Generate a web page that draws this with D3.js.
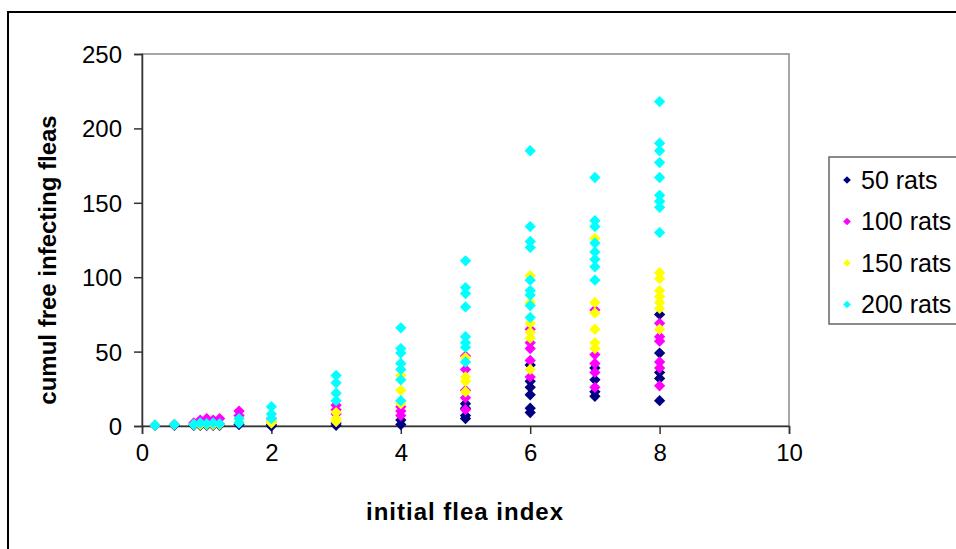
<!DOCTYPE html>
<html>
<head>
<meta charset="utf-8">
<script src="https://cdn.jsdelivr.net/npm/d3@7"></script>
<style>
    body { margin: 0; background: #fff; }
    svg { display: block; }
    .tick-label { font-family: "Liberation Sans", Arial, sans-serif; font-size: 24px; fill: #000; }
    .axis-title { font-family: "Liberation Sans", Arial, sans-serif; font-size: 24px; font-weight: bold; fill: #000; }
    .legend-label { font-family: "Liberation Sans", Arial, sans-serif; font-size: 24px; fill: #000; }
</style>
</head>
<body>
<div id="chart"></div>
<script>
// series values, [initial flea index, cumul free infecting fleas]
const rats50 = [
    [0.2, 0.3], [0.5, 0.5], [0.8, 0.5], [0.9, 0.5], [1.0, 0.5], [1.1, 0.5], [1.2, 0.5], [1.5, 1],
    [2, 0], [2, 1], [3, 0.5], [3, 2], [4, 1], [4, 4],
    [5, 5], [5, 7], [5, 12], [5, 15],
    [6, 9], [6, 12], [6, 21], [6, 26], [6, 30], [6, 41],
    [7, 20], [7, 23], [7, 31], [7, 39],
    [8, 17], [8, 32], [8, 36], [8, 49], [8, 75]
];
const rats100 = [
    [0.2, 0.5], [0.5, 1], [0.8, 2], [0.9, 4], [1.0, 5], [1.1, 4], [1.2, 5], [1.5, 7], [1.5, 10],
    [2, 3], [2, 5], [3, 8], [3, 11], [3, 14], [4, 7], [4, 10], [4, 13],
    [5, 11], [5, 19], [5, 24], [5, 38], [5, 47],
    [6, 33], [6, 44], [6, 52], [6, 56], [6, 65],
    [7, 26], [7, 36], [7, 42], [7, 48], [7, 78],
    [8, 27], [8, 39], [8, 43], [8, 57], [8, 60], [8, 69]
];
const rats150 = [
    [0.2, 0.5], [0.5, 1], [0.8, 1], [0.9, 1], [1.0, 1], [1.1, 1], [1.2, 1], [1.5, 3],
    [2, 2], [2, 3], [3, 3], [3, 5], [3, 9], [4, 15], [4, 24], [4, 34],
    [5, 23], [5, 30], [5, 33], [5, 46],
    [6, 38], [6, 59], [6, 63], [6, 69], [6, 83], [6, 101],
    [7, 52], [7, 56], [7, 65], [7, 76], [7, 83], [7, 126],
    [8, 65], [8, 79], [8, 83], [8, 87], [8, 91], [8, 99], [8, 103]
];
const rats200 = [
    [0.2, 0.5], [0.5, 1], [0.8, 1], [0.9, 2], [1.0, 1.5], [1.1, 2], [1.2, 1.5], [1.5, 2], [1.5, 5],
    [2, 5], [2, 8], [2, 13], [3, 17], [3, 22], [3, 29], [3, 34],
    [4, 17], [4, 31], [4, 38], [4, 42], [4, 49], [4, 52], [4, 66],
    [5, 43], [5, 53], [5, 56], [5, 60], [5, 80], [5, 89], [5, 93], [5, 111],
    [6, 73], [6, 81], [6, 88], [6, 91], [6, 98], [6, 120], [6, 124], [6, 134], [6, 185],
    [7, 98], [7, 107], [7, 112], [7, 117], [7, 123], [7, 134], [7, 138], [7, 167],
    [8, 130], [8, 147], [8, 151], [8, 155], [8, 167], [8, 177], [8, 185], [8, 190], [8, 218]
];

const seriesNames = ['50 rats', '100 rats', '150 rats', '200 rats'];
const seriesColors = ['#000080', '#ff00ff', '#ffff00', '#00ffff'];
const xTicks = [0, 2, 4, 6, 8, 10];
const yTicks = [0, 50, 100, 150, 200, 250];

const W = 956, H = 549;
const plot = { left: 142, right: 789, top: 54, bottom: 426 };

const svg = d3.select('#chart').append('svg')
    .attr('width', W)
    .attr('height', H);

// outer chart frame (runs off the right and bottom of the picture)
svg.append('rect')
    .attr('x', 8).attr('y', 12)
    .attr('width', W).attr('height', H)
    .attr('fill', 'none')
    .attr('stroke', '#000')
    .attr('stroke-width', 2);

const x = d3.scaleLinear().domain([0, 10]).range([plot.left, plot.right]);
const y = d3.scaleLinear().domain([0, 250]).range([plot.bottom, plot.top]);

// plot area border
svg.append('rect')
    .attr('x', plot.left).attr('y', plot.top)
    .attr('width', plot.right - plot.left)
    .attr('height', plot.bottom - plot.top)
    .attr('fill', 'none')
    .attr('stroke', '#888')
    .attr('stroke-width', 1.5);

// axes
const xAxis = svg.append('g')
    .attr('transform', `translate(0,${plot.bottom})`)
    .call(d3.axisBottom(x).tickValues(xTicks).tickSize(8).tickPadding(10));
const yAxis = svg.append('g')
    .attr('transform', `translate(${plot.left},0)`)
    .call(d3.axisLeft(y).tickValues(yTicks).tickSize(8).tickPadding(12));

[xAxis, yAxis].forEach(ax => {
    ax.select('.domain').attr('stroke', '#333').attr('stroke-width', 1.5);
    ax.selectAll('.tick line').attr('stroke', '#333').attr('stroke-width', 1.5);
    ax.selectAll('.tick text').attr('class', 'tick-label').attr('font-size', null).attr('font-family', null);
});
yAxis.selectAll('.tick text').attr('dy', '0.35em');

// axis titles
svg.append('text')
    .attr('class', 'axis-title')
    .attr('x', 465)
    .attr('y', 520)
    .attr('text-anchor', 'middle')
    .attr('letter-spacing', 1)
    .text('initial flea index');

svg.append('text')
    .attr('class', 'axis-title')
    .attr('transform', `translate(56, 260) rotate(-90)`)
    .attr('text-anchor', 'middle')
    .text('cumul free infecting fleas');

// diamond markers
const diamond = d3.symbol().type(d3.symbolSquare).size(64);
const smallDiamond = d3.symbol().type(d3.symbolSquare).size(30);

const allSeries = [rats50, rats100, rats150, rats200];
allSeries.forEach((data, i) => {
    svg.append('g')
        .selectAll('path')
        .data(data)
        .join('path')
        .attr('d', diamond)
        .attr('transform', d => `translate(${x(d[0])},${y(d[1])}) rotate(45)`)
        .attr('fill', seriesColors[i]);
});

// legend
const legend = svg.append('g');
legend.append('rect')
    .attr('x', 829).attr('y', 157)
    .attr('width', 150).attr('height', 167)
    .attr('fill', '#fff')
    .attr('stroke', '#666')
    .attr('stroke-width', 1.5);

seriesNames.forEach((name, i) => {
    const ly = 180 + i * 41.5;
    legend.append('path')
        .attr('d', smallDiamond)
        .attr('transform', `translate(847,${ly}) rotate(45)`)
        .attr('fill', seriesColors[i]);
    legend.append('text')
        .attr('class', 'legend-label')
        .attr('x', 861)
        .attr('y', ly)
        .attr('dy', '0.35em')
        .attr('font-size', 25)
        .style('font-size', '25px')
        .text(name);
});
</script>
</body>
</html>
